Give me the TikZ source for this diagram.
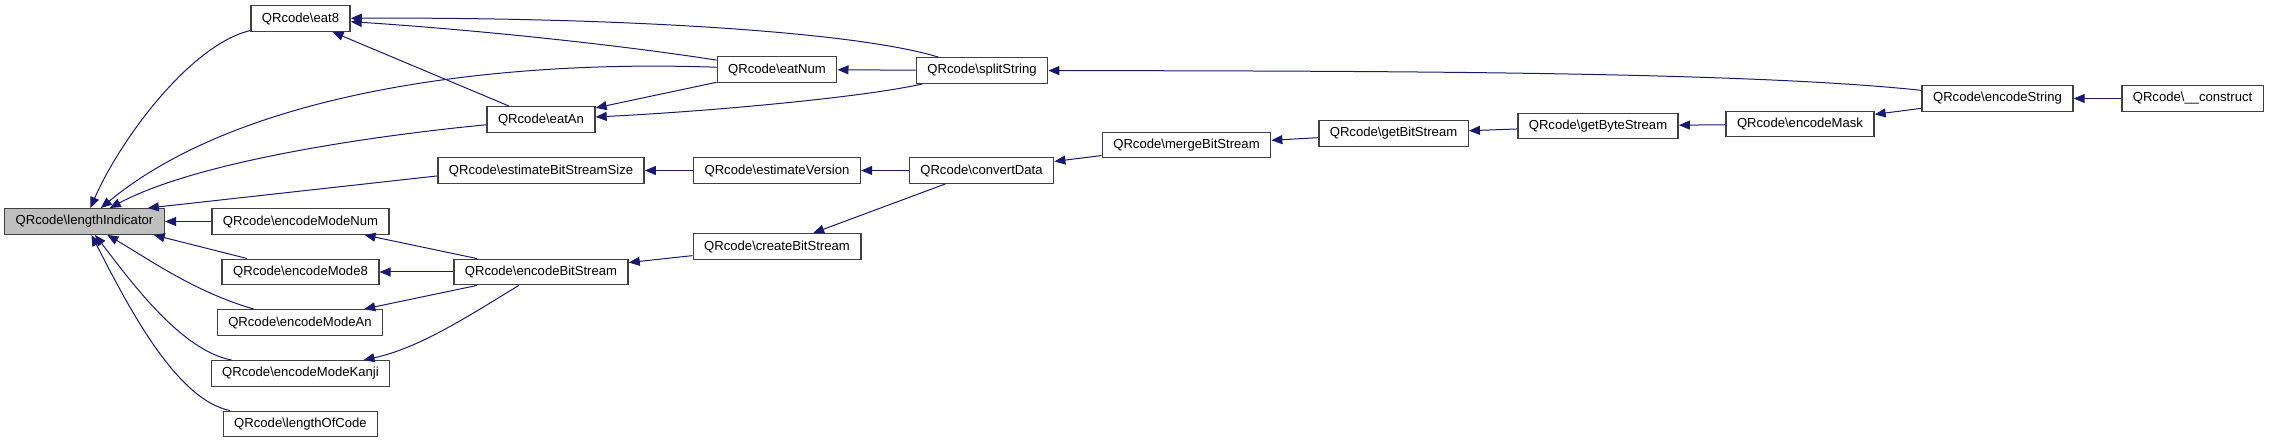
\documentclass[tikz,border=0pt]{standalone}
\usepackage{fontspec}
\setmainfont{Liberation Sans}
\usetikzlibrary{arrows.meta}
\definecolor{callblue}{HTML}{191970}
\newcommand{\qrc}[1]{QRcode\textbackslash #1}

\begin{document}
\begin{tikzpicture}[x=0.5pt,y=-0.5pt,
    fn/.style={draw=black!75,line width=0.7pt,fill=white,
      font=\fontsize{6.55}{7.8}\selectfont,inner xsep=5.5pt,inner ysep=0pt,
      minimum height=12.75pt},
    call/.style={draw=callblue,line width=0.5pt,
      -{Triangle[length=5.5pt,width=4.5pt]},callblue}]
\useasboundingbox (0,0) rectangle (2269,443);

\node[fn,fill=black!25] (li) at (84.5,221.5) {\qrc{lengthIndicator}};
\node[fn] (eat8)      at (300.5,18.5)  {\qrc{eat8}};
\node[fn] (emNum)     at (300.5,221.5) {\qrc{encodeModeNum}};
\node[fn] (em8)       at (300.5,272)   {\qrc{encodeMode8}};
\node[fn] (emAn)      at (300,322.5)   {\qrc{encodeModeAn}};
\node[fn] (emKanji)   at (300.5,373.5) {\qrc{encodeModeKanji}};
\node[fn] (lenOfCode) at (300.5,424)   {\qrc{lengthOfCode}};
\node[fn] (eatAn)     at (541,119.5)   {\qrc{eatAn}};
\node[fn] (ebss)      at (541,170.5)   {\qrc{estimateBitStreamSize}};
\node[fn] (encBS)     at (541,272)     {\qrc{encodeBitStream}};
\node[fn] (eatNum)    at (777,69.5)    {\qrc{eatNum}};
\node[fn] (estVer)    at (777,170.5)   {\qrc{estimateVersion}};
\node[fn] (createBS)  at (777,246.5)   {\qrc{createBitStream}};
\node[fn] (split)     at (982,70.5)    {\qrc{splitString}};
\node[fn] (convData)  at (981.5,170.5) {\qrc{convertData}};
\node[fn] (mergeBS)   at (1186.5,145)  {\qrc{mergeBitStream}};
\node[fn] (getBS)     at (1393.5,133.5) {\qrc{getBitStream}};
\node[fn] (getByteS)  at (1598,126)    {\qrc{getByteStream}};
\node[fn] (encMask)   at (1800,124)    {\qrc{encodeMask}};
\node[fn] (encStr)    at (1997.5,98.5) {\qrc{encodeString}};
\node[fn] (construct) at (2192.5,98.5) {\qrc{\_\_construct}};

\draw[call] (eat8) .. controls (190,45) and (120,140) .. (li);
\draw[call] (eatNum) .. controls (520,60) and (250,85) .. (li);
\draw[call] (eatAn) .. controls (380,135) and (200,160) .. (li);
\draw[call] (ebss.183) -- (li.12);
\draw[call] (emNum) -- (li);
\draw[call] (em8) -- (li.-11);
\draw[call] (emAn) .. controls (195,292) and (150,260) .. (li);
\draw[call] (emKanji) .. controls (180,350) and (130,280) .. (li);
\draw[call] (lenOfCode) .. controls (175,400) and (125,300) .. (li);
\draw[call] (split) .. controls (850,30) and (600,17) .. (eat8);
\draw[call] (eatNum) .. controls (600,42) and (450,28) .. (eat8);
\draw[call] (eatAn) -- (eat8);
\draw[call] (split) -- (eatNum);
\draw[call] (eatNum) -- (eatAn);
\draw[call] (split) .. controls (860,98) and (700,112) .. (eatAn);
\draw[call] (encStr) .. controls (1750,72) and (1400,71) .. (split);
\draw[call] (estVer) -- (ebss);
\draw[call] (convData) -- (estVer);
\draw[call] (mergeBS) -- (convData);
\draw[call] (convData) -- (createBS);
\draw[call] (createBS) -- (encBS);
\draw[call] (getBS) -- (mergeBS);
\draw[call] (getByteS) -- (getBS);
\draw[call] (encMask) -- (getByteS);
\draw[call] (encStr) -- (encMask);
\draw[call] (construct) -- (encStr);
\draw[call] (encBS) -- (emNum);
\draw[call] (encBS) -- (em8);
\draw[call] (encBS) -- (emAn);
\draw[call] (encBS) .. controls (470,315) and (420,348) .. (emKanji);
\end{tikzpicture}
\end{document}
